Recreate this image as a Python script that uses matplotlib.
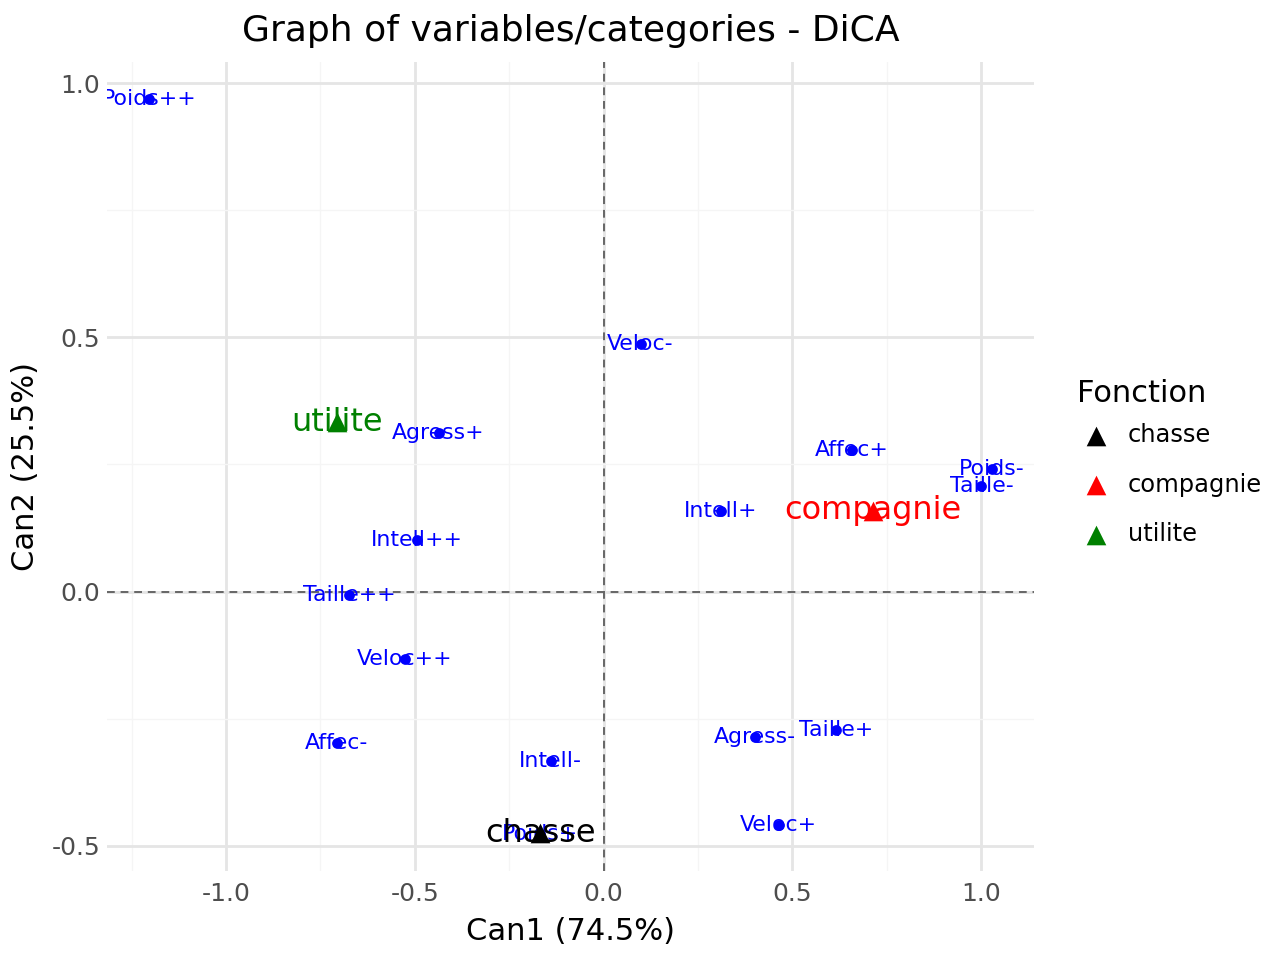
import numpy as np
import matplotlib.pyplot as plt

# variable categories (blue points)
var_labels = ['Taille-', 'Taille+', 'Taille++', 'Poids-', 'Poids+', 'Poids++',
              'Veloc-', 'Veloc+', 'Veloc++', 'Intell-', 'Intell+', 'Intell++',
              'Affec-', 'Affec+', 'Agress-', 'Agress+']
var_x = [1.001, 0.615, -0.673, 1.028, -0.167, -1.203,
         0.098, 0.464, -0.527, -0.140, 0.310, -0.495,
         -0.707, 0.657, 0.400, -0.437]
var_y = [0.207, -0.272, -0.006, 0.242, -0.478, 0.970,
         0.488, -0.459, -0.132, -0.333, 0.159, 0.102,
         -0.299, 0.278, -0.287, 0.311]

# group centres (triangles)
grp_labels = ['chasse', 'compagnie', 'utilite']
grp_x = [-0.167, 0.713, -0.707]
grp_y = [-0.476, 0.159, 0.333]
grp_colors = ['black', 'red', 'green']

fig = plt.figure(figsize=(12.8, 9.6), dpi=100)
ax = fig.add_axes([0.0836, 0.0927, 0.7242, 0.8427])

ax.set_xlim(-1.315, 1.140)
ax.set_ylim(-0.550, 1.042)

ax.set_xticks([-1.0, -0.5, 0.0, 0.5, 1.0])
ax.set_yticks([-0.5, 0.0, 0.5, 1.0])
ax.set_xticks([-1.25, -0.75, -0.25, 0.25, 0.75], minor=True)
ax.set_yticks([-0.25, 0.25, 0.75], minor=True)
ax.grid(which='major', color='#e5e5e5', linewidth=2.0)
ax.grid(which='minor', color='#f5f5f5', linewidth=1.0)
ax.set_axisbelow(True)
for s in ax.spines.values():
    s.set_visible(False)
ax.tick_params(which='both', length=0, labelsize=18, labelcolor='#4d4d4d')
ax.tick_params(axis='x', pad=8)
ax.tick_params(axis='y', pad=5)
ax.set_xticklabels(['-1.0', '-0.5', '0.0', '0.5', '1.0'])
ax.set_yticklabels(['-0.5', '0.0', '0.5', '1.0'])

ax.axhline(0, color='#666666', linestyle=(0, (4, 3)), linewidth=1.4, zorder=1)
ax.axvline(0, color='#666666', linestyle=(0, (4, 3)), linewidth=1.4, zorder=1)

ax.scatter(var_x, var_y, s=60, color='blue', zorder=3, linewidths=0)
for lab, x, y in zip(var_labels, var_x, var_y):
    ax.text(x, y, lab, color='blue', fontsize=15.8, ha='center', va='center',
            zorder=4, clip_on=True)

for lab, x, y, c in zip(grp_labels, grp_x, grp_y, grp_colors):
    ax.scatter([x], [y], marker='^', s=200, color=c, zorder=5, linewidths=0, label=lab)
    ax.text(x, y, lab, color=c, fontsize=23, ha='center', va='center',
            zorder=6, clip_on=True)

ax.set_xlabel('Can1 (74.5%)', fontsize=22, labelpad=8)
ax.set_ylabel('Can2 (25.5%)', fontsize=22, labelpad=8)
ax.set_title('Graph of variables/categories - DiCA', fontsize=26, pad=15)

leg = ax.legend(title='Fonction', loc='center left', bbox_to_anchor=(1.023, 0.505),
                frameon=False, fontsize=17.4, title_fontsize=22, handletextpad=0.5,
                labelspacing=1.05, markerscale=1.0, handlelength=1.6)
leg._legend_box.align = 'left'
leg._legend_box.sep = 11  # tighter gap between title and entries

fig.savefig('out.png', dpi=100)
